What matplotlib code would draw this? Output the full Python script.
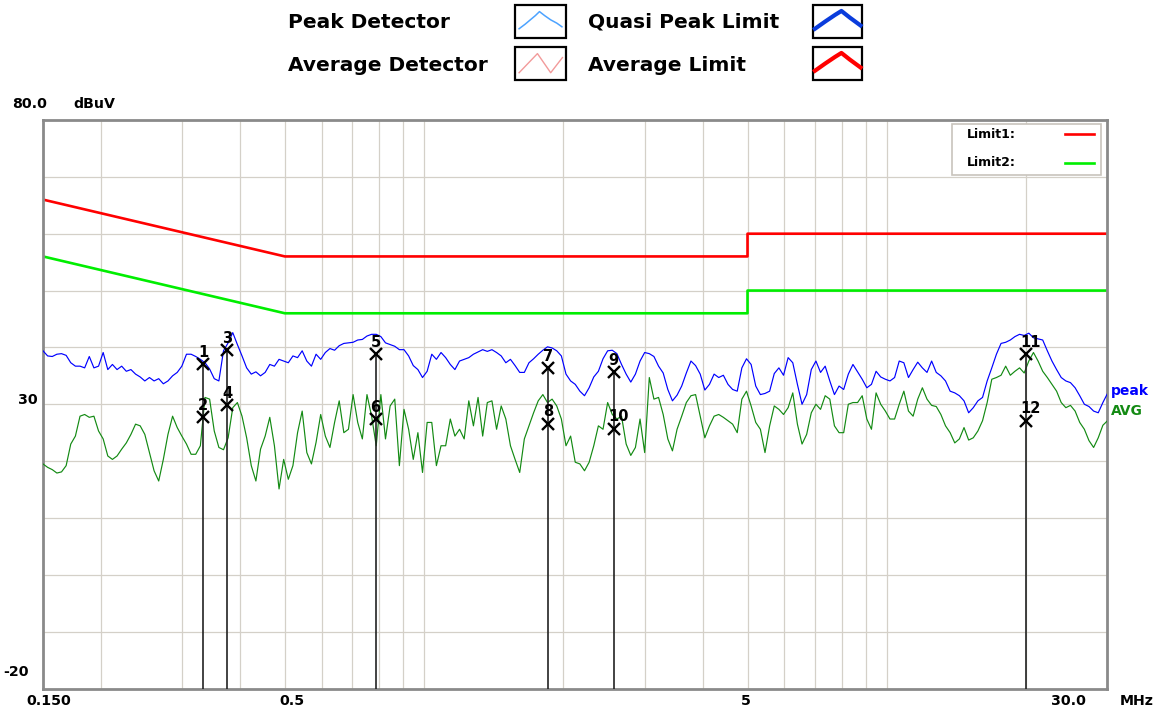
import numpy as np
import matplotlib
matplotlib.use("Agg")
import matplotlib.pyplot as plt
from matplotlib.patches import Rectangle
from matplotlib.ticker import NullLocator

plt.rcParams['font.family'] = ['DejaVu Sans']

# ---------------- data ----------------
# receiver sweep levels (dBuV), read on a log-spaced sweep from 0.15 to 30 MHz
peak_dbuv = [
    39.4, 38.5, 38.4, 38.8, 38.9, 38.6, 37.3, 36.7, 36.7, 36.4,
    38.4, 36.4, 36.7, 39.1, 36.1, 37.0, 36.1, 36.7, 35.8, 36.1,
    35.3, 34.8, 34.1, 34.7, 34.1, 34.5, 33.6, 34.1, 35.0, 35.6,
    36.7, 38.8, 38.8, 38.4, 37.9, 37.3, 36.2, 34.5, 34.1, 39.4,
    40.8, 42.6, 40.5, 38.5, 36.4, 35.3, 35.7, 35.0, 35.6, 37.0,
    36.7, 37.9, 37.6, 37.3, 38.5, 38.2, 39.4, 37.6, 36.7, 38.8,
    37.9, 39.1, 39.8, 39.5, 40.3, 40.7, 40.8, 40.9, 41.3, 41.4,
    42.0, 42.3, 42.3, 41.9, 40.8, 40.5, 40.2, 39.6, 39.6, 38.5,
    36.8, 36.1, 34.7, 35.8, 38.8, 37.9, 39.1, 38.2, 37.0, 36.1,
    37.6, 37.9, 38.2, 38.8, 39.2, 39.6, 39.3, 39.6, 39.1, 38.5,
    37.3, 37.9, 36.8, 35.6, 35.6, 37.3, 38.0, 38.8, 39.5, 40.1,
    39.9, 39.4, 38.5, 35.3, 34.1, 33.5, 32.3, 31.5, 32.9, 34.8,
    35.8, 38.0, 39.4, 39.5, 38.9, 37.0, 35.3, 33.9, 35.3, 37.6,
    39.1, 38.9, 38.4, 36.7, 35.5, 32.6, 30.6, 31.6, 33.2, 35.5,
    37.6, 36.8, 35.3, 32.5, 33.5, 35.3, 34.7, 35.1, 33.5, 32.6,
    32.3, 36.4, 38.0, 37.0, 33.2, 31.7, 31.9, 32.3, 35.4, 36.4,
    35.1, 38.2, 37.3, 33.5, 30.0, 31.7, 36.1, 37.6, 35.6, 36.7,
    34.1, 31.7, 33.2, 32.6, 35.3, 37.0, 35.7, 34.4, 32.9, 33.5,
    35.8, 34.8, 34.4, 34.1, 34.7, 37.6, 37.3, 34.7, 36.1, 37.4,
    36.4, 35.6, 37.6, 35.6, 35.0, 34.1, 32.3, 32.0, 31.5, 30.6,
    28.5, 29.4, 30.6, 31.2, 34.1, 36.4, 38.8, 40.7, 40.9, 41.3,
    41.9, 42.3, 42.1, 42.5, 41.7, 41.5, 41.3, 39.4, 37.6, 36.1,
    34.7, 34.1, 33.8, 32.9, 31.5, 30.0, 29.6, 28.8, 28.5, 30.3,
    31.9,
]

avg_dbuv = [
    19.5, 18.9, 18.5, 17.9, 18.1, 19.2, 23.0, 24.4, 27.9, 28.2,
    27.7, 27.9, 25.3, 23.9, 20.9, 20.3, 20.9, 22.1, 23.2, 24.7,
    26.5, 26.2, 24.7, 21.5, 18.3, 16.5, 20.3, 24.7, 27.9, 25.9,
    24.4, 23.0, 21.2, 21.2, 22.7, 31.2, 30.9, 25.3, 22.4, 22.0,
    24.1, 29.4, 30.3, 27.9, 24.1, 19.2, 16.5, 22.1, 24.4, 27.7,
    22.7, 15.1, 20.3, 16.8, 19.2, 25.0, 28.8, 21.5, 19.5, 23.3,
    28.2, 24.4, 22.4, 26.8, 30.6, 25.0, 25.6, 31.7, 26.8, 23.9,
    31.7, 27.9, 22.7, 31.7, 23.9, 29.7, 30.9, 19.2, 29.1, 25.6,
    20.3, 25.0, 18.0, 26.8, 26.8, 19.2, 22.7, 22.7, 27.4, 24.4,
    25.6, 23.9, 30.6, 26.2, 31.2, 24.4, 30.3, 30.6, 25.6, 29.7,
    27.4, 22.7, 20.3, 18.0, 23.9, 26.2, 28.5, 30.6, 31.7, 30.3,
    30.9, 29.7, 27.4, 22.7, 24.4, 19.8, 19.5, 18.3, 19.8, 22.7,
    26.2, 25.6, 30.3, 28.2, 27.4, 27.9, 23.0, 21.0, 22.4, 27.4,
    21.5, 34.7, 30.9, 31.2, 28.2, 23.9, 21.8, 25.6, 27.9, 30.3,
    31.5, 31.7, 27.9, 24.1, 26.2, 27.9, 28.2, 27.7, 27.1, 26.5,
    25.0, 30.9, 32.3, 29.7, 26.8, 25.6, 21.5, 26.2, 29.7, 29.1,
    28.2, 29.4, 32.0, 26.5, 23.0, 24.7, 28.5, 30.0, 29.1, 31.5,
    30.9, 26.2, 25.0, 25.0, 30.0, 30.3, 30.3, 31.5, 27.4, 25.6,
    32.0, 30.0, 28.8, 27.4, 27.4, 30.0, 32.3, 28.8, 27.9, 30.9,
    32.9, 30.9, 29.8, 29.6, 28.2, 26.2, 25.0, 23.2, 23.9, 25.9,
    23.7, 24.1, 25.3, 27.1, 30.3, 34.4, 34.7, 35.1, 36.7, 35.1,
    35.8, 36.4, 35.5, 37.6, 39.1, 37.6, 35.8, 34.7, 33.5, 32.3,
    30.3, 29.4, 29.8, 28.8, 26.8, 25.6, 23.6, 22.4, 24.1, 26.3,
    27.1,
]

# limit lines (MHz, dBuV)
limit_freq = [0.15, 0.5, 5.0, 5.0, 30.0]
limit_qp = [66.0, 56.0, 56.0, 60.0, 60.0]
limit_avg = [56.0, 46.0, 46.0, 50.0, 50.0]

# markers
marker_labels = ["1", "2", "3", "4", "5", "6", "7", "8", "9", "10", "11", "12"]
marker_freq = [0.333, 0.333, 0.375, 0.375, 0.785, 0.785, 1.85, 1.85, 2.57, 2.57, 20.0, 20.0]
marker_level = [37.0, 27.7, 39.5, 29.8, 38.8, 27.4, 36.3, 26.6, 35.7, 25.7, 38.8, 27.1]

# axis
x_min, x_max = 0.15, 30.0
y_min, y_max = -20, 80
grid_freq = [0.2, 0.3, 0.4, 0.5, 0.6, 0.7, 0.8, 0.9, 1, 2, 3, 4, 5, 6, 7, 8, 9, 10, 20]
grid_level = [-10, 0, 10, 20, 30, 40, 50, 60, 70]

sweep_freq = np.geomspace(x_min, x_max, len(peak_dbuv))

# ---------------- figure ----------------
W, H = 1161, 713
fig = plt.figure(figsize=(W / 100, H / 100), dpi=100)
fig.patch.set_facecolor("white")

L, R, T, B = 43, 1107.5, 120, 688.5
ax = fig.add_axes([L / W, 1 - B / H, (R - L) / W, (B - T) / H])
ax.set_xscale("log")
ax.set_xlim(x_min, x_max)
ax.set_ylim(y_min, y_max)
ax.xaxis.set_major_locator(NullLocator())
ax.xaxis.set_minor_locator(NullLocator())
ax.yaxis.set_major_locator(NullLocator())
ax.yaxis.set_minor_locator(NullLocator())
for s in ax.spines.values():
    s.set_color("#8a8a8a")
    s.set_linewidth(2.0)

GRID = "#d4d0c8"
for f in grid_freq:
    ax.axvline(f, color=GRID, lw=0.9, zorder=0)
for y in grid_level:
    ax.axhline(y, color=GRID, lw=0.9, zorder=0)

ax.plot(limit_freq, limit_qp, color="#ff0000", lw=1.9, zorder=2)
ax.plot(limit_freq, limit_avg, color="#00ee00", lw=1.9, zorder=2)

ax.plot(sweep_freq, avg_dbuv, color="#138a13", lw=0.85, zorder=3)
ax.plot(sweep_freq, peak_dbuv, color="#0000ff", lw=0.85, zorder=4)

# marker stems (from upper marker of each pair down to the axis)
stem_f = marker_freq[0::2]
stem_l = marker_level[0::2]
ax.vlines(stem_f, y_min, stem_l, color="#222222", lw=1.2, zorder=5)
ax.plot(marker_freq, marker_level, "x", ms=9, mew=1.7, color="black", zorder=6)
for lbl, f, lv in zip(marker_labels, marker_freq, marker_level):
    dx = 0 if len(lbl) == 1 else 3.5
    ax.annotate(lbl, (f, lv), xytext=(dx, 8.5), textcoords="offset points",
                ha="center", va="center", fontsize=10.5, fontweight="bold",
                color="black", zorder=7)

# ---------------- overlay (pixel coordinates for decoration) ----------------
ov = fig.add_axes([0, 0, 1, 1], facecolor="none")
ov.set_xlim(0, W)
ov.set_ylim(H, 0)
ov.axis("off")

AX_FS = 10.2
ov.text(30, 104, "80.0", ha="center", va="center", fontsize=AX_FS, fontweight="bold")
ov.text(94, 104, "dBuV", ha="center", va="center", fontsize=AX_FS, fontweight="bold")
ov.text(28, 400, "30", ha="center", va="center", fontsize=AX_FS, fontweight="bold")
ov.text(16, 672, "-20", ha="center", va="center", fontsize=AX_FS, fontweight="bold")
ov.text(49, 701, "0.150", ha="center", va="center", fontsize=AX_FS, fontweight="bold")
ov.text(292, 701, "0.5", ha="center", va="center", fontsize=AX_FS, fontweight="bold")
ov.text(746, 701, "5", ha="center", va="center", fontsize=AX_FS, fontweight="bold")
ov.text(1068, 701, "30.0", ha="center", va="center", fontsize=AX_FS, fontweight="bold")
ov.text(1137, 701, "MHz", ha="center", va="center", fontsize=AX_FS, fontweight="bold")

ov.text(1111, 391, "peak", ha="left", va="center", fontsize=10, fontweight="bold", color="#0000ff")
ov.text(1111, 411, "AVG", ha="left", va="center", fontsize=10, fontweight="bold", color="#138a13")

# in-plot limit legend
ov.add_patch(Rectangle((952, 124), 149, 51, facecolor="white", edgecolor="#c8c4bc", lw=1.2))
ov.text(967, 135, "Limit1:", ha="left", va="center", fontsize=9, fontweight="bold")
ov.text(967, 163, "Limit2:", ha="left", va="center", fontsize=9, fontweight="bold")
ov.plot([1065, 1094], [134, 134], color="#ff0000", lw=1.9)
ov.plot([1065, 1094], [163, 163], color="#00ee00", lw=1.9)

# header legend
HFS = 14.5
ov.text(288, 28, "Peak Detector", ha="left", va="baseline", fontsize=HFS, fontweight="bold")
ov.text(288, 71, "Average Detector", ha="left", va="baseline", fontsize=HFS, fontweight="bold")
ov.text(588, 28, "Quasi Peak Limit", ha="left", va="baseline", fontsize=HFS, fontweight="bold")
ov.text(588, 71, "Average Limit", ha="left", va="baseline", fontsize=HFS, fontweight="bold")


def icon_box(x0, y0, w, h, pts, color, lw):
    ov.add_patch(Rectangle((x0, y0), w, h, facecolor="white", edgecolor="black", lw=1.6))
    xs = [x0 + u * w for u, v in pts]
    ys = [y0 + v * h for u, v in pts]
    ov.plot(xs, ys, color=color, lw=lw, solid_joinstyle="round")


peak_icon = [(0.08, 0.72), (0.2, 0.58), (0.3, 0.45), (0.4, 0.32), (0.48, 0.2),
             (0.58, 0.32), (0.7, 0.45), (0.82, 0.55), (0.92, 0.66)]
avg_icon = [(0.08, 0.78), (0.44, 0.2), (0.70, 0.78), (0.93, 0.32)]
lim_icon = [(0.04, 0.72), (0.25, 0.5), (0.45, 0.3), (0.58, 0.18), (0.75, 0.38), (0.97, 0.62)]

icon_box(515, 5, 51, 33, peak_icon, "#4da3ff", 1.1)
icon_box(515, 47, 51, 33, avg_icon, "#f29a9a", 1.0)
icon_box(813, 5, 49, 33, lim_icon, "#0a3cdc", 3.0)
icon_box(813, 47, 49, 33, lim_icon, "#ff0000", 3.0)

fig.savefig("out.png", dpi=100, facecolor="white")
